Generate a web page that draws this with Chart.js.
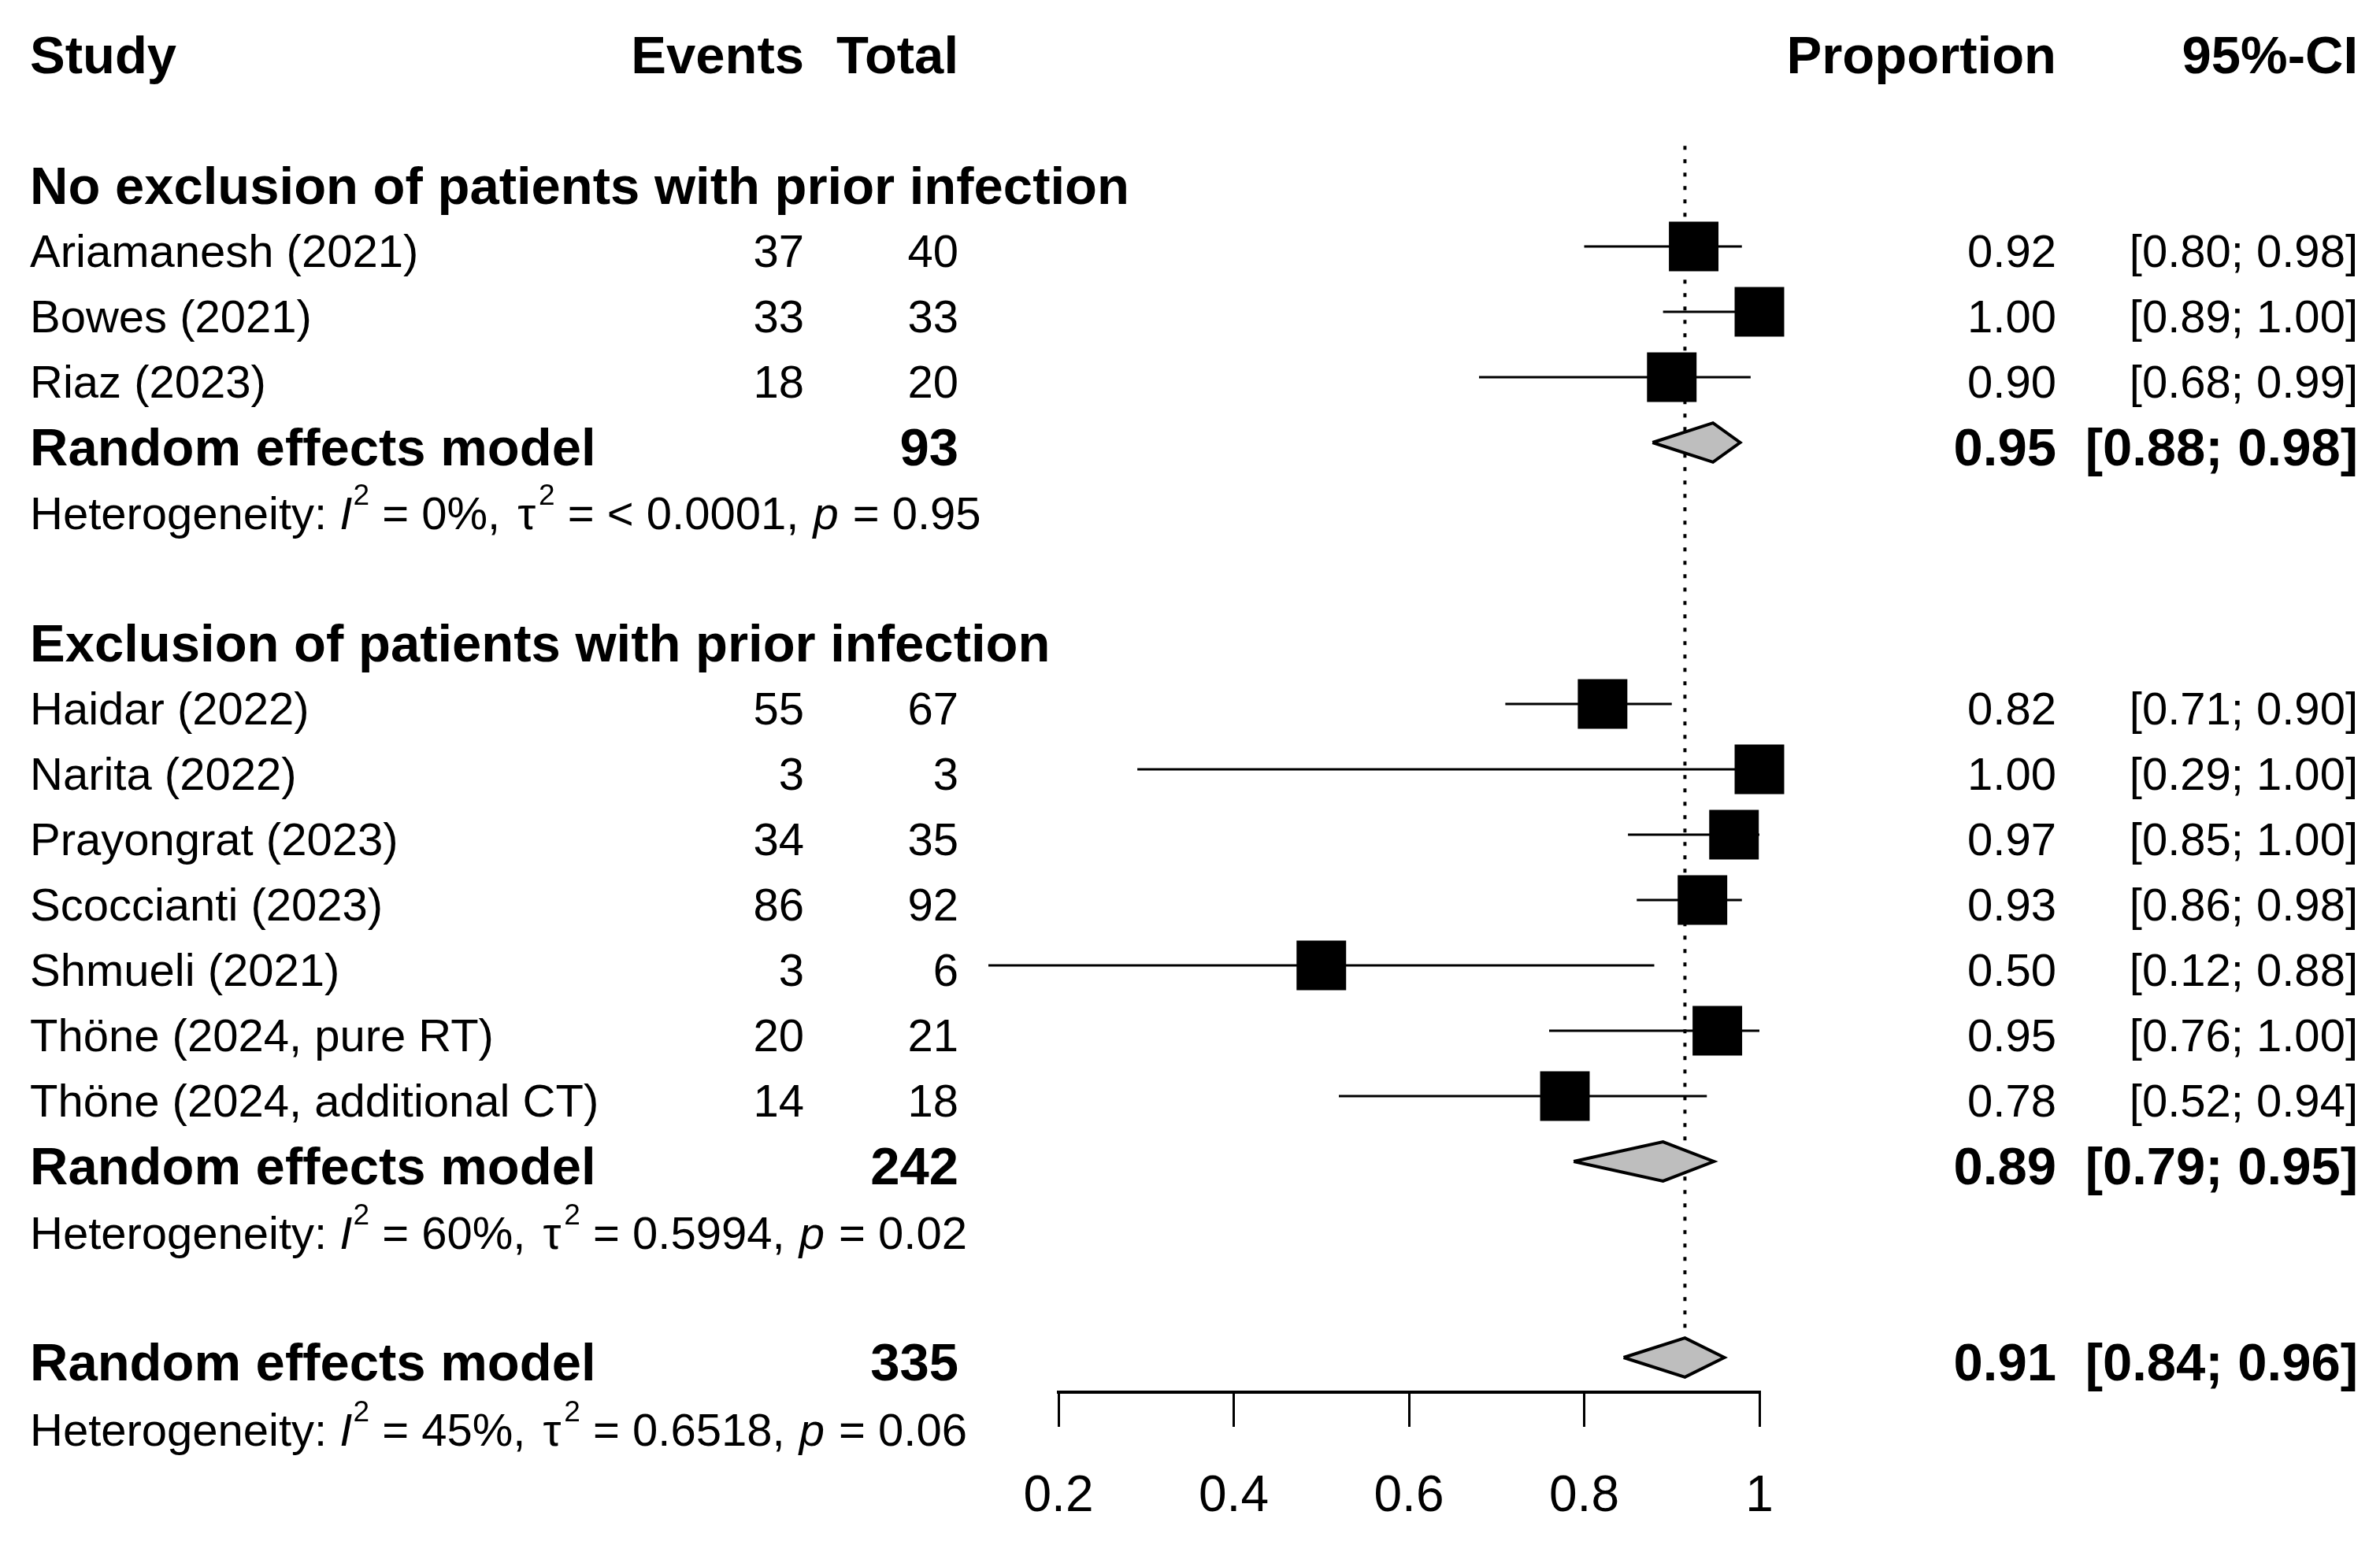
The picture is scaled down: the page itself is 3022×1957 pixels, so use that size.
<!DOCTYPE html>
<html>
<head>
<meta charset="utf-8">
<script src="https://cdn.jsdelivr.net/npm/chart.js@4.4.1/dist/chart.umd.min.js"></script>
<style>
html,body{margin:0;padding:0;background:#ffffff;}
#wrap{width:3022px;height:1957px;position:relative;}
canvas{display:block;}
</style>
</head>
<body>
<div id="wrap"><canvas id="c" width="3022" height="1957"></canvas></div>
<script>
// ---------------- data ----------------
const headers = ["Study", "Events", "Total", "Proportion", "95%-CI"];
const groupTitles = ["No exclusion of patients with prior infection", "Exclusion of patients with prior infection"];
const groupTitleRows = [2, 9];

const studies = ["Ariamanesh (2021)", "Bowes (2021)", "Riaz (2023)", "Haidar (2022)", "Narita (2022)",
  "Prayongrat (2023)", "Scoccianti (2023)", "Shmueli (2021)", "Thöne (2024, pure RT)", "Thöne (2024, additional CT)"];
const studyRows = [3, 4, 5, 10, 11, 12, 13, 14, 15, 16];
const events = [37, 33, 18, 55, 3, 34, 86, 3, 20, 14];
const totals = [40, 33, 20, 67, 3, 35, 92, 6, 21, 18];
const proportions = [0.925, 1.00, 0.90, 0.821, 1.00, 0.971, 0.935, 0.50, 0.952, 0.778];
const ciLower = [0.80, 0.89, 0.68, 0.71, 0.29, 0.85, 0.86, 0.12, 0.76, 0.52];
const ciUpper = [0.98, 1.00, 0.99, 0.90, 1.00, 1.00, 0.98, 0.88, 1.00, 0.94];
const propLabels = ["0.92", "1.00", "0.90", "0.82", "1.00", "0.97", "0.93", "0.50", "0.95", "0.78"];
const ciLabels = ["[0.80; 0.98]", "[0.89; 1.00]", "[0.68; 0.99]", "[0.71; 0.90]", "[0.29; 1.00]",
  "[0.85; 1.00]", "[0.86; 0.98]", "[0.12; 0.88]", "[0.76; 1.00]", "[0.52; 0.94]"];

const modelLabel = "Random effects model";
const modelRows = [6, 17, 20];
const modelTotals = [93, 242, 335];
const modelEst = [0.947, 0.890, 0.915];
const modelLower = [0.878, 0.788, 0.845];
const modelUpper = [0.978, 0.948, 0.960];
const modelPropLabels = ["0.95", "0.89", "0.91"];
const modelCiLabels = ["[0.88; 0.98]", "[0.79; 0.95]", "[0.84; 0.96]"];

const hetRows = [7.01, 18.03, 21.04];
const hetI2 = ["0%", "60%", "45%"];
const hetTau2 = ["< 0.0001", "0.5994", "0.6518"];
const hetP = ["0.95", "0.02", "0.06"];

const xTicks = [0.2, 0.4, 0.6, 0.8, 1];
const refLineValue = 0.915;
const refLineTopRow = 1.46;

// ---------------- style ----------------
const FONT = '"Liberation Sans", Arial, sans-serif';
const NORMAL = 58, BOLD = 67, TICK = 64, SUP = 37, SUP_RAISE = 31;
const colStudy = 38, colEvents = 1021, colTotal = 1217, colProp = 2611, colCI = 2994;
const diamondHalf = 0.3;
const textShift = 5;

// ---------------- datasets ----------------
const datasets = [];
datasets.push({
  type: 'line',
  data: [{x: refLineValue, y: refLineTopRow}, {x: refLineValue, y: modelRows[2]}],
  borderColor: '#000', borderWidth: 4, borderDash: [5, 12],
  pointRadius: 0, pointHoverRadius: 0, fill: false, tension: 0, clip: false, order: 10
});
for (let i = 0; i < studies.length; i++) {
  datasets.push({
    type: 'line',
    data: [{x: ciLower[i], y: studyRows[i]}, {x: ciUpper[i], y: studyRows[i]}],
    borderColor: '#000', borderWidth: 3,
    pointRadius: 0, pointHoverRadius: 0, fill: false, tension: 0, clip: false, order: 5
  });
}
datasets.push({
  type: 'scatter',
  data: proportions.map((p, i) => ({x: p, y: studyRows[i]})),
  pointStyle: 'rect', pointRadius: 44.5, pointHoverRadius: 44.5,
  backgroundColor: '#000', borderColor: '#000', borderWidth: 0,
  clip: false, order: 2
});
for (let i = 0; i < modelRows.length; i++) {
  const r = modelRows[i];
  datasets.push({
    type: 'line',
    data: [
      {x: modelLower[i], y: r},
      {x: modelEst[i], y: r - diamondHalf},
      {x: modelUpper[i], y: r},
      {x: modelEst[i], y: r + diamondHalf},
      {x: modelLower[i], y: r}
    ],
    borderColor: '#000', borderWidth: 4, backgroundColor: '#bebebe',
    fill: 'shape', tension: 0, pointRadius: 0, pointHoverRadius: 0,
    borderJoinStyle: 'miter', clip: false, order: 1
  });
}

// ---------------- text plugin ----------------
function capBase(y, size) { return y + 0.358 * size + textShift; }

const textPlugin = {
  id: 'forestText',
  afterDraw(chart) {
    const ctx = chart.ctx;
    const ys = chart.scales.y;
    ctx.save();
    ctx.fillStyle = '#000';
    ctx.textBaseline = 'alphabetic';

    function txt(s, x, row, size, bold, align) {
      ctx.font = (bold ? 'bold ' : '') + size + 'px ' + FONT;
      ctx.textAlign = align;
      ctx.fillText(s, x, capBase(ys.getPixelForValue(row), size));
    }

    txt(headers[0], colStudy, 0, BOLD, true, 'left');
    txt(headers[1], colEvents, 0, BOLD, true, 'right');
    txt(headers[2], colTotal, 0, BOLD, true, 'right');
    txt(headers[3], colProp, 0, BOLD, true, 'right');
    txt(headers[4], colCI, 0, BOLD, true, 'right');

    for (let g = 0; g < groupTitles.length; g++) {
      txt(groupTitles[g], colStudy, groupTitleRows[g], BOLD, true, 'left');
    }
    for (let i = 0; i < studies.length; i++) {
      txt(studies[i], colStudy, studyRows[i], NORMAL, false, 'left');
      txt(String(events[i]), colEvents, studyRows[i], NORMAL, false, 'right');
      txt(String(totals[i]), colTotal, studyRows[i], NORMAL, false, 'right');
      txt(propLabels[i], colProp, studyRows[i], NORMAL, false, 'right');
      txt(ciLabels[i], colCI, studyRows[i], NORMAL, false, 'right');
    }
    for (let m = 0; m < modelRows.length; m++) {
      txt(modelLabel, colStudy, modelRows[m], BOLD, true, 'left');
      txt(String(modelTotals[m]), colTotal, modelRows[m], BOLD, true, 'right');
      txt(modelPropLabels[m], colProp, modelRows[m], BOLD, true, 'right');
      txt(modelCiLabels[m], colCI, modelRows[m], BOLD, true, 'right');
    }
    for (let h = 0; h < hetRows.length; h++) {
      const base = capBase(ys.getPixelForValue(hetRows[h]), NORMAL);
      // [text, kind, extra gap before]
      const segs = [
        ["Heterogeneity: ", 'n', 0], ["I", 'i', 0], ["2", 's', 1], [" = " + hetI2[h] + ", ", 'n', 0],
        ["\u03C4", 'n', 6], ["2", 's', 4], [" = " + hetTau2[h] + ", ", 'n', 0], ["p", 'i', 2], [" = " + hetP[h], 'n', 2]
      ];
      let x = colStudy;
      ctx.textAlign = 'left';
      for (const [s, kind, gap] of segs) {
        let y = base;
        x += gap;
        if (kind === 'i') ctx.font = 'italic ' + NORMAL + 'px ' + FONT;
        else if (kind === 's') { ctx.font = SUP + 'px ' + FONT; y = base - SUP_RAISE; }
        else ctx.font = NORMAL + 'px ' + FONT;
        ctx.fillText(s, x, y);
        x += ctx.measureText(s).width;
      }
    }
    ctx.restore();
  }
};

new Chart(document.getElementById('c'), {
  type: 'scatter',
  data: {datasets},
  options: {
    responsive: false,
    devicePixelRatio: 1,
    animation: false,
    events: [],
    layout: {autoPadding: false, padding: {left: 1344, right: 788, top: 0, bottom: 0}},
    plugins: {legend: {display: false}, tooltip: {enabled: false}},
    scales: {
      x: {
        type: 'linear', position: 'bottom',
        min: xTicks[0], max: xTicks[xTicks.length - 1],
        afterBuildTicks: (scale) => { scale.ticks = xTicks.map(v => ({value: v})); },
        afterFit: (scale) => { scale.height = 189; },
        ticks: {
          color: '#000', padding: 51, maxRotation: 0, autoSkip: false,
          font: {family: FONT, size: TICK},
          callback: (v) => String(v)
        },
        grid: {display: true, drawOnChartArea: false, drawTicks: true, tickLength: 44, color: '#000', lineWidth: 3},
        border: {display: true, color: '#000', width: 4}
      },
      y: {
        type: 'linear', display: false, reverse: true,
        min: -0.771, max: 20.53
      }
    }
  },
  plugins: [textPlugin]
});
</script>
</body>
</html>
